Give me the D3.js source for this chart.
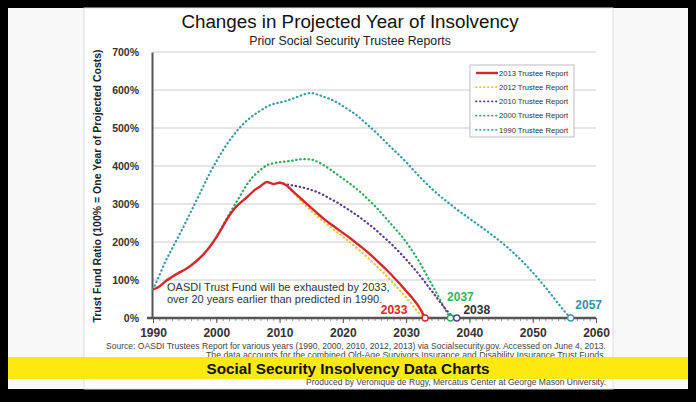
<!DOCTYPE html>
<html><head><meta charset="utf-8">
<script src="https://cdn.jsdelivr.net/npm/d3@7/dist/d3.min.js"></script>
<style>body{margin:0;background:#000;overflow:hidden}svg{display:block}</style>
</head><body>
<svg id="chart" width="696" height="402"></svg>
<script>
// ---------- data ----------
const xTicks = [1990, 2000, 2010, 2020, 2030, 2040, 2050, 2060];
const yTicks = [0, 100, 200, 300, 400, 500, 600, 700];

const years2013 = d3.range(1990, 2034);
const values2013 = [75, 83, 97, 108, 118, 127, 138, 152, 168, 188,
  212, 240, 268, 290, 306, 320, 336, 347, 358, 353,
  356, 350, 335, 320, 305, 290, 275, 261, 248, 236,
  224, 212, 199, 186, 172, 157, 141, 125, 108, 90,
  71, 52, 30, 0];

const years2012 = d3.range(2011, 2034);
const values2012 = [350, 333, 315, 298, 282, 267, 253, 240, 227, 214,
  201, 187, 173, 158, 142, 126, 109, 91, 73, 54,
  34, 13, 0];

const years2010 = d3.range(2010, 2039);
const values2010 = [356, 352, 349, 346, 342, 337, 331, 323, 314, 305,
  295, 284, 273, 261, 248, 235, 220, 205, 189, 172,
  154, 135, 115, 94, 72, 50, 28, 10, 0];

const years2000 = d3.range(2000, 2038);
const values2000 = [212, 242, 272, 300, 328, 355, 375, 390, 402, 407,
  410, 412, 414, 417, 418, 417, 411, 402, 391, 379,
  367, 355, 342, 328, 312, 296, 278, 259, 240, 221,
  200, 176, 150, 120, 90, 60, 28, 0];

const years1990 = d3.range(1990, 2057);
const values1990 = [75, 112, 150, 182, 214, 246, 280, 314, 348, 382,
  412, 440, 465, 487, 506, 522, 535, 546, 556, 563,
  567, 571, 577, 583, 589, 592, 588, 582, 576, 568,
  558, 547, 536, 522, 507, 492, 476, 459, 443, 427,
  410, 392, 374, 357, 341, 326, 312, 299, 286, 274,
  262, 250, 238, 226, 213, 200, 186, 171, 155, 138,
  120, 101, 81, 60, 39, 18, 0];

const seriesNames = ["2013 Trustee Report", "2012 Trustee Report", "2010 Trustee Report", "2000 Trustee Report", "1990 Trustee Report"];
const seriesColors = ["#d7262c", "#f6c03e", "#5b3b8e", "#2fa95a", "#3d98a6"];
const endLabels = ["2033", "2037", "2038", "2057"];

const series = [
  {name: seriesNames[0], years: years2013, values: values2013, color: seriesColors[0], solid: true},
  {name: seriesNames[1], years: years2012, values: values2012, color: seriesColors[1]},
  {name: seriesNames[2], years: years2010, values: values2010, color: seriesColors[2]},
  {name: seriesNames[3], years: years2000, values: values2000, color: seriesColors[3]},
  {name: seriesNames[4], years: years1990, values: values1990, color: seriesColors[4]}
];

// ---------- layout ----------
const FONT = "Liberation Sans, Arial, sans-serif";
const svg = d3.select("#chart");
svg.append("rect").attr("x", 0).attr("y", 0).attr("width", 696).attr("height", 402).attr("fill", "#000");
svg.append("rect").attr("x", 8).attr("y", 8).attr("width", 680).attr("height", 381).attr("fill", "#f8f8f8");
svg.append("rect").attr("x", 84).attr("y", 8).attr("width", 529).attr("height", 381)
  .attr("fill", "#fff").attr("stroke", "#ddd").attr("stroke-width", 1);

const x = d3.scaleLinear().domain([1990, 2060]).range([153, 596]);
const y = d3.scaleLinear().domain([0, 700]).range([318, 52]);

// title
svg.append("text").attr("x", 350).attr("y", 28).attr("text-anchor", "middle")
  .attr("font-family", FONT).attr("font-size", 18.8).attr("fill", "#111")
  .text("Changes in Projected Year of Insolvency");
svg.append("text").attr("x", 350).attr("y", 45).attr("text-anchor", "middle")
  .attr("font-family", FONT).attr("font-size", 12.3).attr("fill", "#222")
  .text("Prior Social Security Trustee Reports");

// grid
svg.append("g").selectAll("line").data(yTicks.filter(d => d > 0)).join("line")
  .attr("x1", x(1990)).attr("x2", x(2060)).attr("y1", d => y(d)).attr("y2", d => y(d))
  .attr("stroke", "#dcdcdc").attr("stroke-width", 1.5);

// y axis
const yAxis = svg.append("g").attr("transform", `translate(${x(1990) - 1},0)`)
  .call(d3.axisLeft(y).tickValues(yTicks).tickFormat(d => d + "%").tickSize(0).tickPadding(13));
yAxis.select(".domain").attr("stroke", "#555").attr("stroke-width", 2);
yAxis.selectAll("text").attr("font-family", FONT)
  .attr("font-size", 10.5).attr("font-weight", "bold").attr("fill", "#333");

// x axis minor ticks
svg.append("g").attr("transform", `translate(0,${y(0)})`)
  .call(d3.axisBottom(x).ticks(70).tickSize(3).tickFormat(""))
  .call(g => g.select(".domain").remove())
  .selectAll("line").attr("stroke", "#999");
const xAxis = svg.append("g").attr("transform", `translate(0,${y(0)})`)
  .call(d3.axisBottom(x).tickValues(xTicks).tickFormat(d3.format("d")).tickSize(5).tickSizeOuter(0).tickPadding(5));
xAxis.select(".domain").attr("stroke", "#555").attr("stroke-width", 2.5)
  .attr("d", `M${x(1990) - 6},0H${x(2060)}`);
xAxis.selectAll(".tick line").attr("stroke", "#555");
xAxis.selectAll("text").attr("font-family", FONT)
  .attr("font-size", 12).attr("font-weight", "bold").attr("fill", "#333");

// y axis title
svg.append("text").attr("transform", `translate(101,${186}) rotate(-90)`).attr("text-anchor", "middle")
  .attr("font-family", FONT).attr("font-size", 10.5).attr("font-weight", "bold").attr("fill", "#222")
  .text("Trust Fund Ratio (100% = One Year of Projected Costs)");

// lines
const line = d3.line().x(d => x(d[0])).y(d => y(d[1])).curve(d3.curveMonotoneX);
const drawOrder = [4, 3, 2, 1, 0];
drawOrder.forEach(i => {
  const s = series[i];
  svg.append("path").datum(d3.zip(s.years, s.values)).attr("d", line)
    .attr("fill", "none").attr("stroke", s.color)
    .attr("stroke-width", s.solid ? 2.4 : 2.2)
    .attr("stroke-linecap", s.solid ? "butt" : "round")
    .attr("stroke-dasharray", s.solid ? null : "0.5,3.6");
});

// end circles
[0, 3, 2, 4].forEach(i => {
  const s = series[i];
  svg.append("circle").attr("cx", x(s.years[s.years.length - 1])).attr("cy", y(0)).attr("r", 3)
    .attr("fill", "#fff").attr("stroke", s.color).attr("stroke-width", 1.3);
});

// end labels
const labelStyle = sel => sel.attr("font-family", FONT).attr("font-size", 12).attr("font-weight", "bold");
labelStyle(svg.append("text").attr("x", x(2033) - 31).attr("y", 314).attr("text-anchor", "middle").attr("fill", "#e0262b").text(endLabels[0]));
labelStyle(svg.append("text").attr("x", x(2037) + 10).attr("y", 301).attr("text-anchor", "middle").attr("fill", "#35b35e").text(endLabels[1]));
labelStyle(svg.append("text").attr("x", x(2038) + 20).attr("y", 314).attr("text-anchor", "middle").attr("fill", "#333").text(endLabels[2]));
labelStyle(svg.append("text").attr("x", x(2056) + 18).attr("y", 309).attr("text-anchor", "middle").attr("fill", "#3a91a2").text(endLabels[3]));

// annotation
const ann = svg.append("text").attr("font-family", FONT).attr("font-size", 11).attr("fill", "#333");
ann.append("tspan").attr("x", 167).attr("y", 291).text("OASDI Trust Fund will be exhausted by 2033,");
ann.append("tspan").attr("x", 167).attr("y", 303).text("over 20 years earlier than predicted in 1990.");

// legend
const lg = svg.append("g");
lg.append("rect").attr("x", 470).attr("y", 65).attr("width", 104).attr("height", 72)
  .attr("fill", "#fff").attr("stroke", "#bbb").attr("stroke-width", 1);
series.forEach((s, i) => {
  const ly = 73 + i * 14.2;
  lg.append("line").attr("x1", 476).attr("x2", 498).attr("y1", ly).attr("y2", ly)
    .attr("stroke", s.color).attr("stroke-width", s.solid ? 2.4 : 1.8)
    .attr("stroke-linecap", s.solid ? "butt" : "round")
    .attr("stroke-dasharray", s.solid ? null : "0.5,3.5");
  lg.append("text").attr("x", 499).attr("y", ly + 2.7).attr("font-family", FONT)
    .attr("font-size", 7.6).attr("fill", "#333").text(s.name);
});

// source notes
const note = (t, yy, len) => svg.append("text").attr("x", 606).attr("y", yy).attr("text-anchor", "end")
  .attr("font-family", FONT).attr("font-size", 8.2).attr("fill", "#444")
  .attr("textLength", len).attr("lengthAdjust", "spacingAndGlyphs").text(t);
note("Source: OASDI Trustees Report for various years (1990, 2000, 2010, 2012, 2013) via Socialsecurity.gov. Accessed on June 4, 2013.", 348.8, 500);
note("The data accounts for the combined Old-Age Survivors Insurance and Disability Insurance Trust Funds.", 358.2, 400);
note("Produced by Veronique de Rugy, Mercatus Center at George Mason University.", 385.2, 300);

// banner
svg.append("rect").attr("x", 8).attr("y", 357).attr("width", 680).attr("height", 22).attr("fill", "#fbe90f");
svg.append("text").attr("x", 348).attr("y", 374).attr("text-anchor", "middle")
  .attr("font-family", FONT).attr("font-size", 15.3).attr("font-weight", "bold").attr("fill", "#111")
  .text("Social Security Insolvency Data Charts");
</script>
</body></html>
